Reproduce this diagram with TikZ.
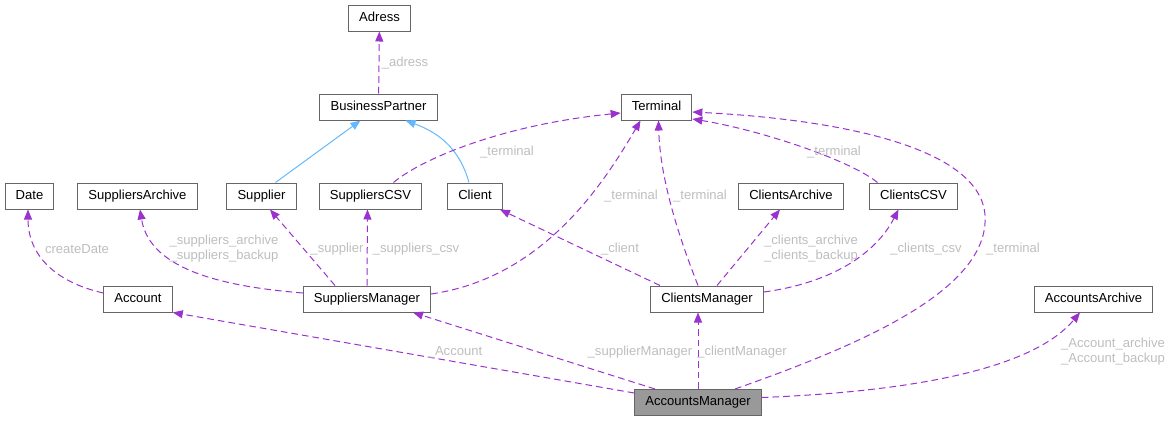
\documentclass[tikz,border=0pt]{standalone}
\usepackage{fontspec}
\setmainfont{Liberation Sans}
\usepackage{xcolor}
\usepackage{tikz}
\usetikzlibrary{positioning,arrows.meta,calc}
\definecolor{edgepurple}{HTML}{9A32CD}
\definecolor{inheritblue}{HTML}{63B8FF}
\definecolor{labelgrey}{HTML}{BEBEBE}
\definecolor{boxborder}{HTML}{666666}
\definecolor{boxfocus}{HTML}{999999}
\tikzset{
  classbox/.style={
    draw=boxborder,
    rectangle,
    line width=0.75pt,
    align=center,
    font=\fontsize{9.8}{11.25}\selectfont,
    minimum height=19.5pt,
    text height=7pt,
    text depth=2pt,
    inner xsep=8pt,
    inner ysep=0pt
  },
  classboxfocus/.style={
    classbox,
    fill=boxfocus
  },
  usearrow/.style={
    -{Triangle[length=7.5pt,width=6pt,fill=edgepurple]},
    draw=edgepurple,
    line width=0.75pt,
    dash pattern=on 5pt off 3pt
  },
  inheritarrow/.style={
    -{Triangle[length=7.5pt,width=6pt,fill=inheritblue]},
    draw=inheritblue,
    line width=0.75pt
  },
  edgelabel/.style={
    text=labelgrey,
    align=center,
    inner sep=0pt,
    font=\fontsize{9.8}{11.25}\selectfont
  }
}
\begin{document}
\begin{tikzpicture}[
    x=0.75pt,
    y=-0.75pt
    ]

    \useasboundingbox (0,0) rectangle (1171,421);

    \node[classbox] (adress) at (379.5,18) {Adress};
    \node[classbox] (partner) at (378.5,107) {BusinessPartner};
    \node[classbox] (terminal) at (656.5,107) {Terminal};

    \node[classbox] (date) at (29.5,196) {Date};
    \node[classbox] (supparchive) at (137.5,196) {SuppliersArchive};
    \node[classbox] (supplier) at (261.5,196) {Supplier};
    \node[classbox] (suppcsv) at (370.5,196) {SuppliersCSV};
    \node[classbox] (client) at (475,196) {Client};
    \node[classbox] (clarchive) at (791,196) {ClientsArchive};
    \node[classbox] (clcsv) at (913.5,196) {ClientsCSV};

    \node[classbox] (account) at (138,299) {Account};
    \node[classbox] (suppmgr) at (367,299) {SuppliersManager};
    \node[classbox] (climgr) at (707,299) {ClientsManager};
    \node[classbox] (accarchive) at (1093.5,299) {AccountsArchive};

    \node[classboxfocus] (accmgr) at (698,402.5) {AccountsManager};

    \draw[usearrow] (partner) -- (adress)
      node[edgelabel] at (405,63) {\_adress};

    \draw[inheritarrow] ($(supplier.north)+(14,0)$) -- ($(partner.south)+(-18,0)$);
    \draw[inheritarrow] ($(client.north)+(-6,0)$) .. controls (460,150) and (440,133) .. ($(partner.south)+(27,0)$);

    \draw[usearrow] ($(suppcsv.north)+(23,0)$) .. controls (420,160) and (500,125) .. ($(terminal.west)+(0,6)$)
      node[edgelabel] at (507,152) {\_terminal};
    \draw[usearrow] ($(suppmgr.east)+(0,-5)$) .. controls (540,278) and (600,190) .. ($(terminal.south)+(-16,0)$)
      node[edgelabel] at (631,196) {\_terminal};
    \draw[usearrow] ($(climgr.north)+(-9,0)$) .. controls (680,240) and (660,180) .. ($(terminal.south)+(2,0)$)
      node[edgelabel] at (700,196) {\_terminal};
    \draw[usearrow] ($(clcsv.north)+(-36,0)$) .. controls (850,160) and (760,130) .. ($(terminal.east)+(0,12)$)
      node[edgelabel] at (834,152) {\_terminal};
    \draw[usearrow] ($(accmgr.north)+(37,0)$) .. controls (860,345) and (990,290) .. (985,215)
      .. controls (980,150) and (850,120) .. ($(terminal.east)+(0,5)$)
      node[edgelabel] at (1013,249) {\_terminal};

    \draw[usearrow] ($(account.west)+(0,-6)$) .. controls (55,282) and (28,255) .. ($(date.south)+(-1.5,0)$)
      node[edgelabel] at (77,249) {createDate};
    \draw[usearrow] ($(suppmgr.west)+(0,-6)$) .. controls (230,287) and (150,272) .. ($(supparchive.south)+(2.5,0)$)
      node[edgelabel] at (224,248.5) {\_suppliers\_archive\\\_suppliers\_backup};
    \draw[usearrow] ($(suppmgr.north)+(-32,0)$) -- ($(supplier.south)+(8.5,0)$)
      node[edgelabel] at (337,249) {\_supplier};
    \draw[usearrow] (suppmgr.north) -- ($(suppcsv.south)+(-3,0)$)
      node[edgelabel] at (416,249) {\_suppliers\_csv};

    \draw[usearrow] ($(climgr.north)+(-47,0)$) -- ($(client.south)+(25,0)$)
      node[edgelabel] at (620,249) {\_client};
    \draw[usearrow] ($(climgr.north)+(10,0)$) -- ($(clarchive.south)+(-11,0)$)
      node[edgelabel] at (811,248.5) {\_clients\_archive\\\_clients\_backup};
    \draw[usearrow] ($(climgr.east)+(0,-7)$) .. controls (830,283) and (875,255) .. ($(clcsv.south)+(-15,0)$)
      node[edgelabel] at (926,249) {\_clients\_csv};

    \draw[usearrow] ($(accmgr.west)+(0,-9.5)$) -- (account.south east)
      node[edgelabel] at (455,352) {\_Account};
    \draw[usearrow] ($(accmgr.north)+(-43,0)$) -- ($(suppmgr.south)+(46,0)$)
      node[edgelabel] at (640,352) {\_supplierManager};
    \draw[usearrow] (accmgr.north) -- ($(climgr.south)+(-9,0)$)
      node[edgelabel] at (742,352) {\_clientManager};
    \draw[usearrow] ($(accmgr.east)+(0,-5)$) .. controls (900,392) and (1030,372) .. ($(accarchive.south)+(-13.5,0)$)
      node[edgelabel] at (1113,351.5) {\_Account\_archive\\\_Account\_backup};

\end{tikzpicture}
\end{document}
